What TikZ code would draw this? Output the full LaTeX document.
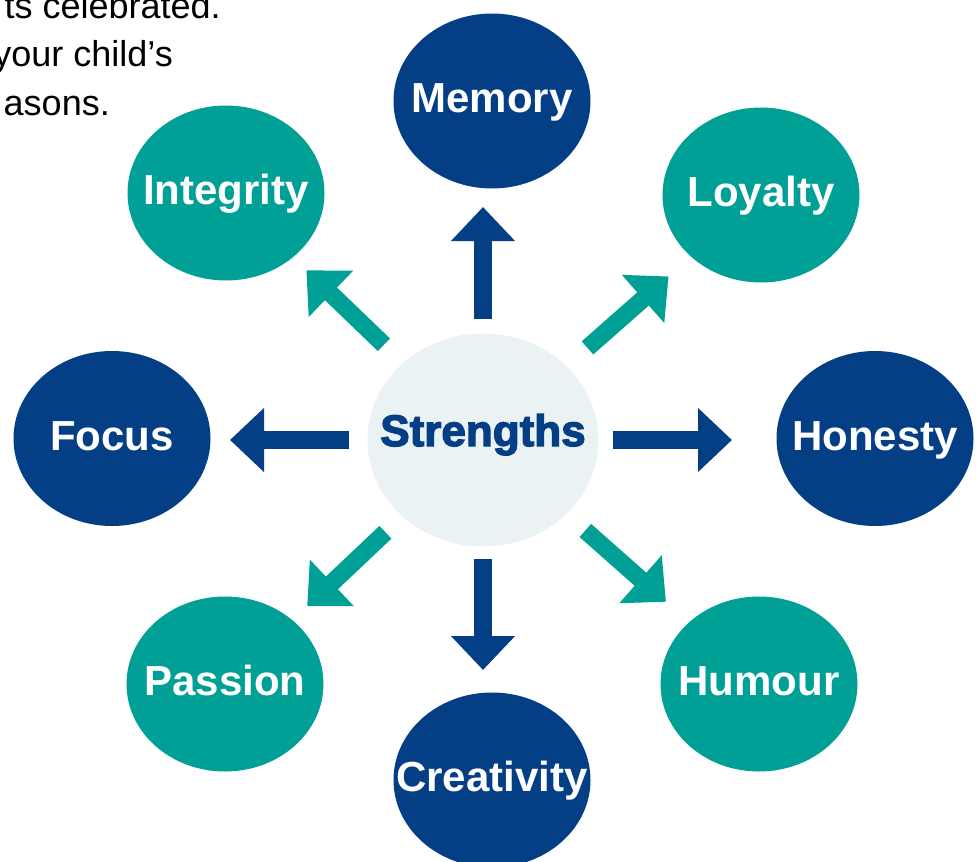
\documentclass[tikz,border=0pt]{standalone}
\usepackage{fontspec}
\setmainfont{Liberation Sans}
\newfontfamily\heavyfont[FakeBold=3]{Liberation Sans Bold}
\usetikzlibrary{shapes.geometric, arrows.meta}
\definecolor{navyblue}{RGB}{4,63,133}
\definecolor{tealgreen}{RGB}{0,160,150}
\definecolor{palegrey}{RGB}{234,242,244}

\begin{document}
\begin{tikzpicture}[x=1pt, y=-1pt,
        blob/.style={ellipse, minimum width=197pt, minimum height=175pt, inner sep=0pt, outer sep=0pt,
            text=white, font=\bfseries\fontsize{42}{48}\selectfont, text height=31pt, text depth=8pt},
        bluearrow/.style={navyblue, line width=17.5pt, -{Triangle[width=62pt, length=34pt]}},
        tealarrow/.style={tealgreen, line width=17.5pt, -{Triangle[width=62pt, length=34pt]}},
        blurb/.style={anchor=base east, inner sep=0pt, font=\fontsize{36}{48}\selectfont}]
        \useasboundingbox (0,0) rectangle (980,862);

        \node[blurb] (lineone) at (221,19) {ts celebrated.};
        \node[blurb] (linetwo) at (173,66.7) {your child’s};
        \node[blurb] (linethree) at (110,115) {asons.};

        \node[ellipse, fill=palegrey, minimum width=231pt, minimum height=213pt, inner sep=0pt, outer sep=0pt,
            text=navyblue, font=\heavyfont\fontsize{44}{50}\selectfont, text height=32pt, text depth=20pt]
            (centre) at (483,440) {\makebox[0pt]{Strengths}};

        \node[blob, fill=navyblue] (memory) at (492,101) {\makebox[0pt]{Memory}};
        \node[blob, fill=tealgreen] (integrity) at (226,193) {\makebox[0pt]{Integrity}};
        \node[blob, fill=tealgreen] (loyalty) at (761,195) {\makebox[0pt]{Loyalty}};
        \node[blob, fill=navyblue] (focus) at (112,438.5) {\makebox[0pt]{Focus}};
        \node[blob, fill=navyblue] (honesty) at (875,438.5) {\makebox[0pt]{Honesty}};
        \node[blob, fill=tealgreen] (passion) at (225,684) {\makebox[0pt]{Passion}};
        \node[blob, fill=tealgreen] (humour) at (759,684) {\makebox[0pt]{Humour}};
        \node[blob, fill=navyblue] (creativity) at (492,780) {\makebox[0pt]{Creativity}};

        \draw[bluearrow, shorten <=14.5pt, shorten >=18.5pt] (centre.north) -- (centre.north |- memory.south);
        \draw[bluearrow, shorten <=12.5pt, shorten >=22.5pt] (centre.south) -- (centre.south |- creativity.north);
        \draw[bluearrow, shorten <=18.5pt, shorten >=19.5pt] (centre.west) -- (centre.west -| focus.east);
        \draw[bluearrow, shorten <=14.5pt, shorten >=44.5pt] (centre.east) -- (centre.east -| honesty.west);

        \draw[tealarrow, shorten <=26.5pt, shorten >=18.8pt] (centre) -- (integrity);
        \draw[tealarrow, shorten <=28pt, shorten >=30pt] (centre) -- (loyalty);
        \draw[tealarrow, shorten <=23.3pt, shorten >=20.3pt] (centre) -- (passion);
        \draw[tealarrow, shorten <=25.3pt, shorten >=31pt] (centre) -- (humour);
    \end{tikzpicture}
\end{document}
